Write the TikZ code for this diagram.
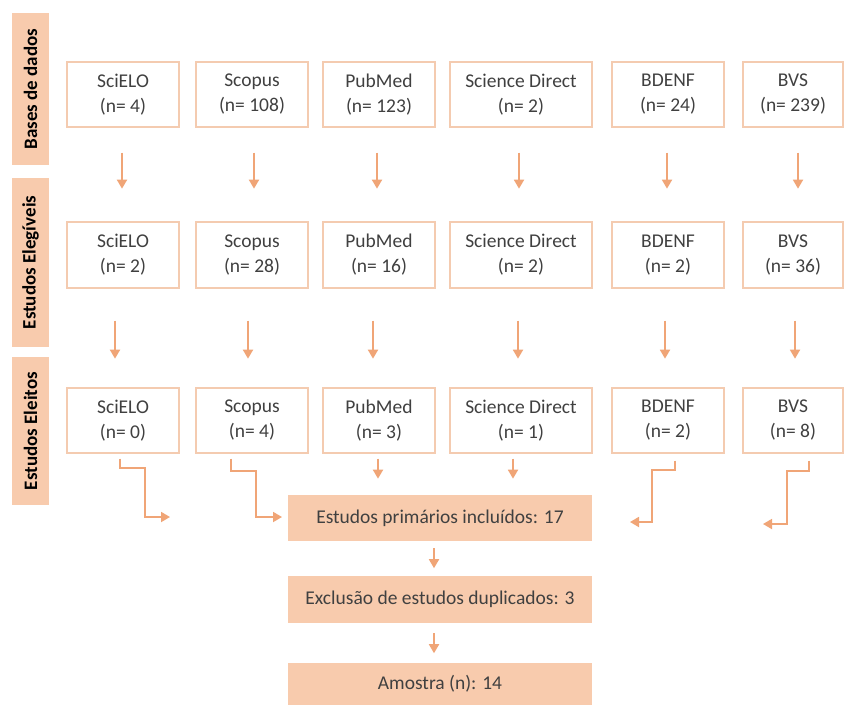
\documentclass[tikz,border=0pt]{standalone}
\usepackage{fontspec}
\setmainfont{Carlito}
\usetikzlibrary{arrows.meta,calc}
\definecolor{boxline}{HTML}{F4CBB0}
\definecolor{peach}{HTML}{F8CBAD}
\definecolor{arrowc}{HTML}{F0A577}
\definecolor{txt}{HTML}{404040}
\tikzset{
  dbbox/.style={draw=boxline, line width=1.3pt, fill=white, inner sep=0pt,
    align=center, text=txt, font=\fontsize{19.5}{25}\selectfont},
  bar/.style={fill=peach, draw=none, inner sep=0pt, minimum width=37pt,
    font=\bfseries\fontsize{19}{23}\selectfont, text=black},
  sumbox/.style={fill=peach, draw=none, inner sep=0pt, minimum width=304pt,
    text=txt, font=\fontsize{19.5}{25}\selectfont},
  arr/.style={draw=arrowc, line width=1.8pt, -{Triangle[width=10pt,length=9pt]}},
}
\begin{document}
\begin{tikzpicture}[x=1pt,y=-1pt]
\useasboundingbox (0,0) rectangle (845,705);
\fill[white] (0,0) rectangle (845,705);
% side bars
\node[bar, minimum height=152pt] (b1) at (30.5,89) {\rotatebox{90}{Bases de dados}};
\node[bar, minimum height=169pt] (b2) at (30.5,262.5) {\rotatebox{90}{Estudos Elegíveis}};
\node[bar, minimum height=148pt] (b3) at (30.5,431) {\rotatebox{90}{Estudos Eleitos}};
% rows
\foreach \r/\cy/\h in {1/94.5/65, 2/255/66, 3/420.5/65}{
  \foreach \c/\cx/\w in {1/123/112, 2/252/112, 3/379/112, 4/521/142, 5/668/112, 6/793/100}{
    \coordinate (p\r\c) at (\cx,\cy);
  }
}
\newcommand{\dbnode}[5]{\node[dbbox, minimum width=#3pt, minimum height=#4pt] (#1) at (#2) {#5};}
% row 1
\dbnode{r1c1}{p11}{112}{65}{SciELO\\(n= 4)}
\dbnode{r1c2}{p12}{112}{65}{Scopus\\(n= 108)}
\dbnode{r1c3}{p13}{112}{65}{PubMed\\(n= 123)}
\dbnode{r1c4}{p14}{142}{65}{Science Direct\\(n= 2)}
\dbnode{r1c5}{p15}{112}{65}{BDENF\\(n= 24)}
\dbnode{r1c6}{p16}{100}{65}{BVS\\(n= 239)}
% row 2
\dbnode{r2c1}{p21}{112}{66}{SciELO\\(n= 2)}
\dbnode{r2c2}{p22}{112}{66}{Scopus\\(n= 28)}
\dbnode{r2c3}{p23}{112}{66}{PubMed\\(n= 16)}
\dbnode{r2c4}{p24}{142}{66}{Science Direct\\(n= 2)}
\dbnode{r2c5}{p25}{112}{66}{BDENF\\(n= 2)}
\dbnode{r2c6}{p26}{100}{66}{BVS\\(n= 36)}
% row 3
\dbnode{r3c1}{p31}{112}{65}{SciELO\\(n= 0)}
\dbnode{r3c2}{p32}{112}{65}{Scopus\\(n= 4)}
\dbnode{r3c3}{p33}{112}{65}{PubMed\\(n= 3)}
\dbnode{r3c4}{p34}{142}{65}{Science Direct\\(n= 1)}
\dbnode{r3c5}{p35}{112}{65}{BDENF\\(n= 2)}
\dbnode{r3c6}{p36}{100}{65}{BVS\\(n= 8)}
% summary boxes
\node[sumbox, minimum height=46pt] (s1) at (440,518) {Estudos primários incluídos: 17};
\node[sumbox, minimum height=47pt] (s2) at (440,599.5) {Exclusão de estudos duplicados: 3};
\node[sumbox, minimum height=42pt] (s3) at (440,684) {Amostra (n): 14};
% arrows row1 -> row2
\foreach \c/\dx in {1/-1, 2/2, 3/-2, 4/-2, 5/-1, 6/5}{
  \draw[arr] ($(r1c\c.south)+(\dx,25)$) -- ($(r1c\c.south)+(\dx,61)$);
}
% arrows row2 -> row3
\foreach \c/\dx in {1/-8, 2/-4, 3/-6, 4/-3, 5/-3, 6/2}{
  \draw[arr] ($(r2c\c.south)+(\dx,32)$) -- ($(r2c\c.south)+(\dx,70)$);
}
% row3 -> summary
\draw[arr] ($(r3c3.south)+(-1,5)$) -- ($(r3c3.south)+(-1,25)$);
\draw[arr] ($(r3c4.south)+(-8,5)$) -- ($(r3c4.south)+(-8,25)$);
\draw[arr, rounded corners=0pt] ($(r3c1.south)+(-3,5)$) -- ++(0,9) -- ++(25,0) |- (170,517);
\draw[arr] ($(r3c2.south)+(-21,5)$) -- ++(0,12) -- ++(25,0) |- (282,517);
\draw[arr] ($(r3c5.south)+(7,7)$) -- ++(0,9) -- ++(-23,0) |- (630,522);
\draw[arr] ($(r3c6.south)+(16,7)$) -- ++(0,10) -- ++(-22,0) |- (763,524);
% summary chain
\draw[arr] ($(s1.south)+(-6,7)$) -- ($(s1.south)+(-6,27)$);
\draw[arr] ($(s2.south)+(-6,10)$) -- ($(s2.south)+(-6,30)$);
\end{tikzpicture}
\end{document}
